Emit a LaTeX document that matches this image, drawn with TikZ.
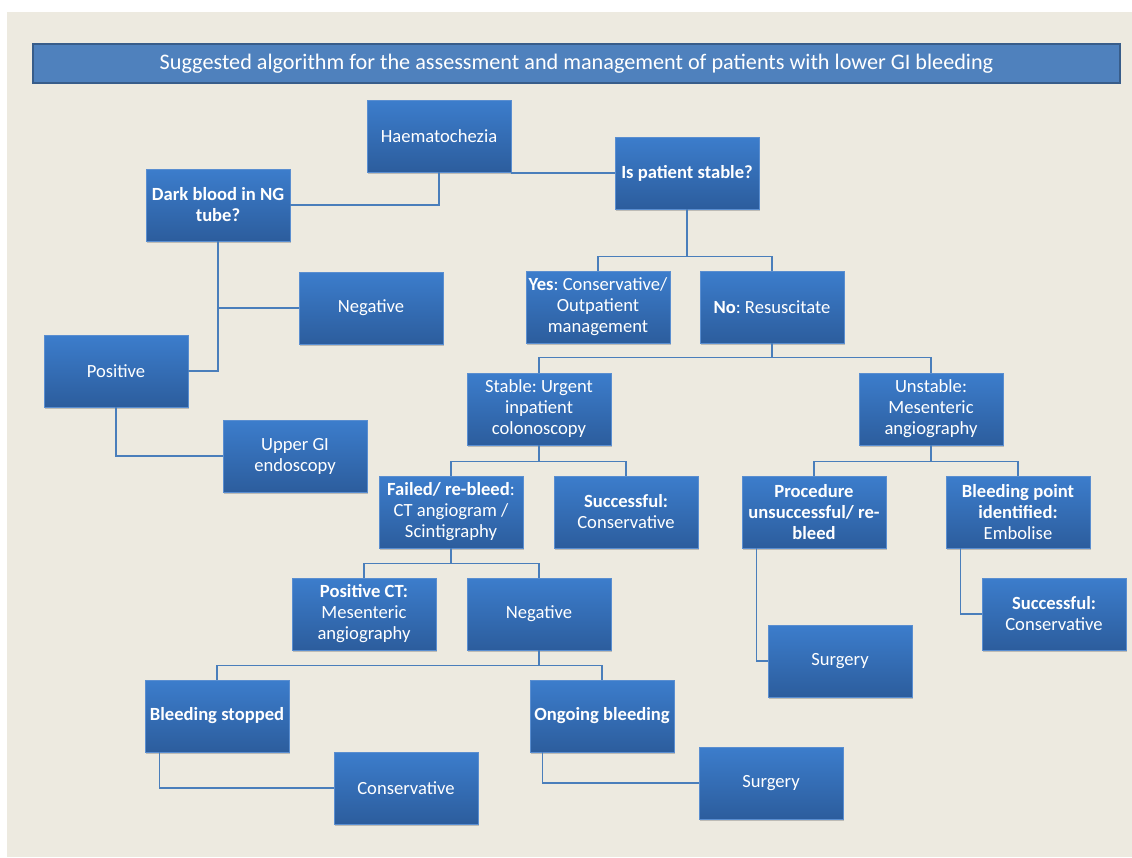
\documentclass[tikz,border=0pt]{standalone}
\usepackage{fontspec}
\setmainfont{Carlito}
\usetikzlibrary{shadows}
\frenchspacing
\definecolor{bgbeige}{HTML}{EDEAE0}
\definecolor{boxtop}{HTML}{3C7DCC}
\definecolor{boxbot}{HTML}{2C5D9D}
\definecolor{boxedge}{HTML}{5A8ED0}
\definecolor{linkblue}{HTML}{4A7EBB}
\definecolor{titlefill}{HTML}{4F81BD}
\definecolor{titleedge}{HTML}{385D8A}
\tikzset{
  stepbox/.style={rectangle, minimum width=144pt, minimum height=72pt, inner sep=0pt,
    align=center, top color=boxtop, bottom color=boxbot,
    draw=boxedge, line width=0.6pt, text=white,
    font=\fontsize{18.6}{21}\selectfont,
    drop shadow={shadow xshift=1pt, shadow yshift=-2pt, opacity=0.35, fill=black!60}},
  titlebox/.style={rectangle, minimum width=1087pt, minimum height=39pt, inner sep=0pt,
    fill=titlefill, draw=titleedge, line width=2pt, text=white,
    font=\fontsize{22.2}{26}\selectfont},
  link/.style={draw=linkblue, line width=1.2pt}
}
\begin{document}
\begin{tikzpicture}[x=1pt,y=-1pt]
\useasboundingbox (0,0) rectangle (1132,857);
\fill[white] (0,0) rectangle (1132,857);
\fill[bgbeige] (7,12) rectangle (1132,857);

\node[titlebox] (title) at (576.5,63.5) {Suggested algorithm for the assessment and management of patients with lower GI bleeding};

\node[stepbox] (haem) at (439,136) {Haematochezia};
\node[stepbox] (stab) at (687,173) {\textbf{Is patient stable?}};
\node[stepbox] (dark) at (218,205) {\textbf{Dark blood in NG}\\\textbf{tube?}};
\node[stepbox] (negA) at (371,308) {Negative};
\node[stepbox] (posA) at (116,371) {Positive};
\node[stepbox] (ugi) at (295,456) {Upper GI\\endoscopy};
\node[stepbox] (yes) at (598,307) {\textbf{Yes}: Conservative/\\Outpatient\\management};
\node[stepbox] (no) at (772,307) {\textbf{No}: Resuscitate};
\node[stepbox] (stu) at (539,409) {Stable: Urgent\\inpatient\\colonoscopy};
\node[stepbox] (uns) at (931,409) {Unstable:\\Mesenteric\\angiography};
\node[stepbox] (fail) at (451,512) {\textbf{Failed/ re-bleed}:\\CT angiogram /\\Scintigraphy};
\node[stepbox] (succA) at (626,512) {\textbf{Successful:}\\Conservative};
\node[stepbox] (proc) at (814,512) {\textbf{Procedure}\\\textbf{unsuccessful/ re-}\\\textbf{bleed}};
\node[stepbox] (bpt) at (1018,512) {\textbf{Bleeding point}\\\textbf{identified:}\\Embolise};
\node[stepbox] (pct) at (364,614) {\textbf{Positive CT:}\\Mesenteric\\angiography};
\node[stepbox] (negB) at (539,614) {Negative};
\node[stepbox] (succB) at (1054,614) {\textbf{Successful:}\\Conservative};
\node[stepbox] (surgA) at (840,661) {Surgery};
\node[stepbox] (bstop) at (217,716) {\textbf{Bleeding stopped}};
\node[stepbox] (ongo) at (602,716) {\textbf{Ongoing bleeding}};
\node[stepbox] (cons) at (406,788) {Conservative};
\node[stepbox] (surgB) at (771,783) {Surgery};

\path[link] (haem.south) |- (dark.east);
\path[link] (stab.west -| haem.east) -- (stab.west);
\path[link] (stab.south) -- ++(0,47) -| (yes.north);
\path[link] (stab.south) -- ++(0,47) -| (no.north);
\path[link] (dark.south) |- (posA.east);
\path[link] (dark.south |- negA.west) -- (negA.west);
\path[link] (posA.south) |- (ugi.west);
\path[link] (no.south) -- ++(0,14) -| (stu.north);
\path[link] (no.south) -- ++(0,14) -| (uns.north);
\path[link] (stu.south) -- ++(0,16) -| (fail.north);
\path[link] (stu.south) -- ++(0,16) -| (succA.north);
\path[link] (uns.south) -- ++(0,16) -| (proc.north);
\path[link] (uns.south) -- ++(0,16) -| (bpt.north);
\path[link] (fail.south) -- ++(0,15) -| (pct.north);
\path[link] (fail.south) -- ++(0,15) -| (negB.north);
\path[link] (negB.south) -- ++(0,15) -| (bstop.north);
\path[link] (negB.south) -- ++(0,15) -| (ongo.north);
\path[link] ([xshift=15pt]proc.south west) |- (surgA.west);
\path[link] ([xshift=15pt]bpt.south west) |- (succB.west);
\path[link] ([xshift=15pt]bstop.south west) |- (cons.west);
\path[link] ([xshift=13pt]ongo.south west) |- (surgB.west);
\end{tikzpicture}
\end{document}
